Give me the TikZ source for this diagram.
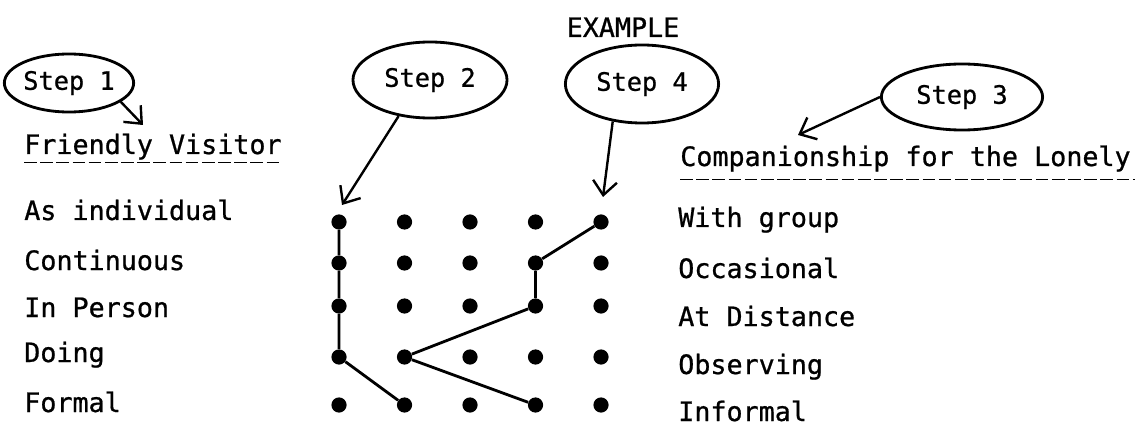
\documentclass[tikz,border=0pt]{standalone}
\usepackage{fontspec}
\setmainfont[FakeBold=0.8,AutoFakeBold=0.8]{DejaVu Sans Mono}
\usetikzlibrary{arrows.meta,shapes.geometric,calc}

\tikzset{
  dot/.style={circle,fill=black,inner sep=0pt,minimum size=0.38cm},
  stepbubble/.style={draw,ellipse,line width=2pt,inner sep=0pt,font=\fontsize{18}{22}\selectfont\bfseries},
  pointer/.style={->,line width=1.7pt},
  link/.style={line width=2pt},
  ul/.style={line width=1.1pt,dash pattern=on 9pt off 2.5pt},
  lbl/.style={anchor=base west,inner sep=0pt}
}

\begin{document}
\begin{tikzpicture}[x=0.025cm,y=-0.025cm,font=\fontsize{19}{23}\selectfont\bfseries,
    >={Straight Barb[length=3.5mm,width=6mm]}]

  \useasboundingbox (0,0) rectangle (1145,426);

  \node [anchor=base] at(623,37) (example) {EXAMPLE};

  % the four steps
  \node [stepbubble,minimum width=3.2cm,minimum height=1.45cm] at(69,83) (step1) {Step 1};
  \node [stepbubble,minimum width=3.85cm,minimum height=1.9cm] at(430,80) (step2) {Step 2};
  \node [stepbubble,minimum width=3.83cm,minimum height=1.95cm] at(642,84) (step4) {Step 4};
  \node [stepbubble,minimum width=4.03cm,minimum height=1.65cm] at(962,97) (step3) {Step 3};

  % the two headings
  \node [lbl] at(24,154) (friendly) {Friendly Visitor};
  \node [lbl] at(680,166) (companion) {Companionship for the Lonely};
  \draw [ul] ([yshift=-2pt]friendly.south west) -- ([yshift=-2pt]friendly.south east);
  \draw [ul] ([yshift=-5.5pt]companion.south west) -- ([yshift=-5.5pt,xshift=3pt]companion.south east);

  % the two ends of each scale
  \foreach \n/\left/\lb/\right/\rb in {1/As individual/220/With group/227,
      2/Continuous/270/Occasional/278,
      3/In Person/317/At Distance/326,
      4/Doing/362/Observing/374,
      5/Formal/412/Informal/421}{
    \node [lbl] at(24,\lb) (left_\n) {\left};
    \node [lbl] at(678,\rb) (right_\n) {\right};
  }

  % grid of points
  \foreach \c in {1,...,5}{
    \foreach \r/\y in {1/222,2/263,3/306,4/357,5/405}{
      \pgfmathsetmacro{\xcoor}{339+(\c-1)*65.5}% x-coordinate
      \node [dot] at(\xcoor,\y) (d\c\r) {};
    }
  }

  % profile lines
  \draw [link] (d11) -- (d12) -- (d13) -- (d14) -- (d25);
  \draw [link] (d45) -- (d24) -- (d43) -- (d42) -- (d51);

  % arrows from the bubbles
  \coordinate (tip1) at(143,125);
  \coordinate (tip2) at(342,205);
  \coordinate (tip4) at(603,197);
  \coordinate (tip3) at(798,135);
  \draw [pointer] (step1.-20) -- (tip1);
  \draw [pointer] (step2.-131) -- (tip2);
  \draw [pointer] (step4.-128) -- (tip4);
  \draw [pointer] (step3.west) -- (tip3);
\end{tikzpicture}
\end{document}
